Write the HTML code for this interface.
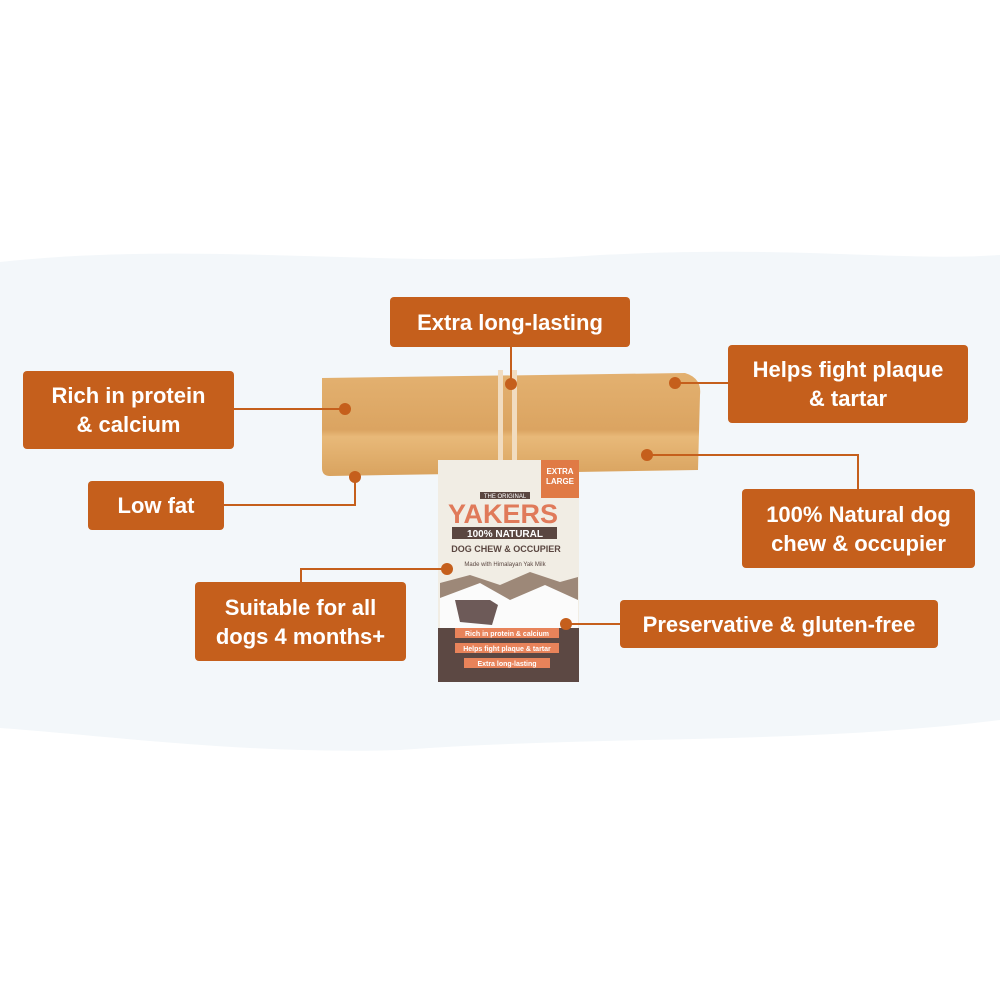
<!DOCTYPE html>
<html><head><style>
body{margin:0;width:1000px;height:1000px;background:#fff;position:relative;overflow:hidden;font-family:"Liberation Sans",sans-serif}
.b{position:absolute;background:#c55f1c;color:#fff;font-weight:bold;font-size:22px;border-radius:4px;display:flex;align-items:center;justify-content:center;text-align:center;line-height:29px}
.l{position:absolute;background:#c55f1c}
.d{position:absolute;width:12px;height:12px;border-radius:50%;background:#c55f1c;margin:-6px 0 0 -6px}
</style></head><body>
<svg style="position:absolute;left:0;top:0" width="1000" height="1000">
<path d="M0 262 C200 240 400 270 600 255 C800 245 900 262 1000 255 L1000 720 C800 745 600 735 400 750 C250 755 100 735 0 728 Z" fill="#f3f7fa"/>
<defs><linearGradient id="g" x1="0" y1="0" x2="0" y2="1"><stop offset="0" stop-color="#e3b170"/><stop offset=".55" stop-color="#dba461"/><stop offset=".62" stop-color="#e8b979"/><stop offset="1" stop-color="#d9a35f"/></linearGradient></defs>
<path d="M322 378 L685 373 Q702 378 700 395 L698 470 L330 476 Q322 476 322 468 Z" fill="url(#g)"/>
<rect x="498" y="370" width="5" height="100" fill="#f1dcc0"/><rect x="512" y="370" width="5" height="100" fill="#f1dcc0"/>
<rect x="438" y="460" width="141" height="170" fill="#f1ede4"/>
<rect x="541" y="460" width="38" height="38" fill="#e07a45"/>
<text x="560" y="474" font-size="8" fill="#fff" text-anchor="middle" font-weight="bold">EXTRA</text>
<text x="560" y="484" font-size="8" fill="#fff" text-anchor="middle" font-weight="bold">LARGE</text>
<rect x="480" y="492" width="50" height="7" fill="#5a4640"/><text x="505" y="498" font-size="6" fill="#fff" text-anchor="middle">THE ORIGINAL</text>
<text x="503" y="523" font-size="27" fill="#e07a5a" text-anchor="middle" font-weight="bold">YAKERS</text>
<rect x="452" y="527" width="105" height="12" fill="#5a4640"/><text x="505" y="537" font-size="10" fill="#fff" text-anchor="middle" font-weight="bold">100% NATURAL</text>
<text x="506" y="552" font-size="9" fill="#5a4640" text-anchor="middle" font-weight="bold">DOG CHEW &amp; OCCUPIER</text>
<text x="505" y="566" font-size="6" fill="#5a4640" text-anchor="middle">Made with Himalayan Yak Milk</text>
<path d="M440 583 L470 575 L500 585 L530 572 L560 582 L578 577 L578 630 L440 630 Z" fill="#9d8878"/>
<path d="M440 598 L480 583 L510 600 L545 585 L578 600 L578 630 L440 630 Z" fill="#fbfbfb"/>
<path d="M455 600 L490 600 L498 605 L492 625 L460 622 Z" fill="#6d5a58"/>
<rect x="438" y="628" width="141" height="54" fill="#5c4843"/>
<g fill="#e8835a" font-size="7" text-anchor="middle"><rect x="455" y="628" width="104" height="10"/><rect x="455" y="643" width="104" height="10"/><rect x="464" y="658" width="86" height="10"/></g>
<g fill="#fff" font-size="7" text-anchor="middle" font-weight="bold"><text x="507" y="636">Rich in protein &amp; calcium</text><text x="507" y="651">Helps fight plaque &amp; tartar</text><text x="507" y="666">Extra long-lasting</text></g>
</svg>
<div class="b" style="left:390px;top:297px;width:240px;height:50px">Extra long-lasting</div>
<div class="b" style="left:23px;top:371px;width:211px;height:78px">Rich in protein<br>&amp; calcium</div>
<div class="b" style="left:728px;top:345px;width:240px;height:78px">Helps fight plaque<br>&amp; tartar</div>
<div class="b" style="left:88px;top:481px;width:136px;height:49px">Low fat</div>
<div class="b" style="left:742px;top:489px;width:233px;height:79px">100% Natural dog<br>chew &amp; occupier</div>
<div class="b" style="left:195px;top:582px;width:211px;height:79px">Suitable for all<br>dogs 4 months+</div>
<div class="b" style="left:620px;top:600px;width:318px;height:48px">Preservative &amp; gluten-free</div>
<div class="l" style="left:234px;top:408px;width:111px;height:2px"></div><div class="d" style="left:345px;top:409px"></div>
<div class="l" style="left:510px;top:347px;width:2px;height:37px"></div><div class="d" style="left:511px;top:384px"></div>
<div class="l" style="left:675px;top:382px;width:53px;height:2px"></div><div class="d" style="left:675px;top:383px"></div>
<div class="l" style="left:647px;top:454px;width:212px;height:2px"></div><div class="l" style="left:857px;top:454px;width:2px;height:35px"></div><div class="d" style="left:647px;top:455px"></div>
<div class="l" style="left:354px;top:477px;width:2px;height:29px"></div><div class="l" style="left:224px;top:504px;width:132px;height:2px"></div><div class="d" style="left:355px;top:477px"></div>
<div class="l" style="left:301px;top:568px;width:146px;height:2px"></div><div class="l" style="left:300px;top:568px;width:2px;height:14px"></div><div class="d" style="left:447px;top:569px"></div>
<div class="l" style="left:566px;top:623px;width:54px;height:2px"></div><div class="d" style="left:566px;top:624px"></div>
</body></html>
